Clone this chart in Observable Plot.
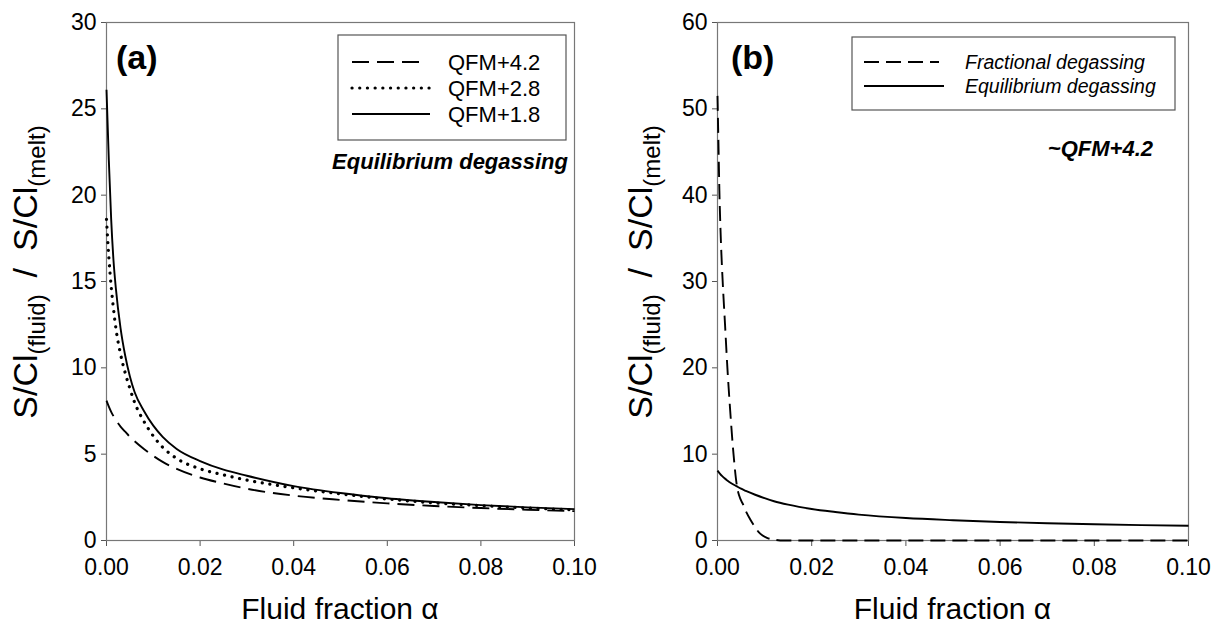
<!DOCTYPE html>
<html><head><meta charset="utf-8">
<script src="https://cdn.jsdelivr.net/npm/d3@7"></script>
<script src="https://cdn.jsdelivr.net/npm/@observablehq/plot@0.6"></script>
<style>
body{margin:0;background:#fff;}
#wrap{display:flex;width:1211px;height:632px;overflow:hidden;}
svg text{font-family:"Liberation Sans",Arial,Helvetica,sans-serif;}
</style></head><body><div id="wrap"></div>
<script>
// ---- data ----
const xTicks = [0, 0.02, 0.04, 0.06, 0.08, 0.10];
const yTicksA = [0, 5, 10, 15, 20, 25, 30];
const yTicksB = [0, 10, 20, 30, 40, 50, 60];

const alphaA = [0, 0.0005, 0.001, 0.0015, 0.002, 0.003, 0.004, 0.005, 0.006, 0.008, 0.010, 0.012, 0.015, 0.020, 0.025, 0.030, 0.040, 0.050, 0.060, 0.070, 0.080, 0.090, 0.100];
const qfm42 = [8.1, 7.75, 7.45, 7.2, 6.98, 6.6, 6.3, 6.0, 5.75, 5.3, 4.9, 4.55, 4.15, 3.65, 3.3, 3.0, 2.6, 2.35, 2.15, 2.0, 1.88, 1.78, 1.7];
const qfm28 = [18.6, 16.4, 14.7, 13.4, 12.3, 10.8, 9.7, 8.8, 8.0, 6.9, 6.05, 5.4, 4.75, 4.15, 3.8, 3.5, 3.05, 2.7, 2.4, 2.18, 2.02, 1.88, 1.78];
const qfm18 = [26.1, 22.0, 18.6, 16.2, 14.6, 12.3, 10.7, 9.5, 8.6, 7.5, 6.65, 6.0, 5.3, 4.6, 4.1, 3.75, 3.15, 2.75, 2.45, 2.23, 2.05, 1.92, 1.82];

const fracAlpha = [0, 0.0002, 0.0004, 0.0007, 0.0011, 0.0016, 0.0021, 0.0027, 0.0034, 0.0041, 0.0046, 0.0055, 0.0062, 0.0069, 0.0078, 0.0087, 0.0095, 0.0105, 0.0115, 0.0125, 0.014, 0.02, 0.04, 0.06, 0.08, 0.10];
const fracVals = [51.5, 46, 40.5, 35, 30, 25, 20, 15, 10, 6.4, 5.2, 4.1, 3.2, 2.5, 1.7, 1.0, 0.6, 0.3, 0.15, 0.06, 0, 0, 0, 0, 0, 0];
const equilVals = qfm42;

const seriesA = ["QFM+4.2", "QFM+2.8", "QFM+1.8"];
const seriesB = ["Fractional degassing", "Equilibrium degassing"];

const toRows = (xs, ys) => xs.map((a, i) => ({a, v: ys[i]}));

const FONT = '"Liberation Sans", Arial, Helvetica, sans-serif';
const styles = {
  dashA: {dash: "17,8", w: 1.9, cap: "butt"},
  dot:   {dash: "0.1,7.6", w: 3.2, cap: "round"},
  solid: {dash: null, w: 1.9, cap: "butt"},
  dashB: {dash: "15,7", w: 1.9, cap: "butt"}
};

function makePanel(cfg) {
  const plot = Plot.plot({
    width: cfg.width, height: 632,
    marginTop: 22, marginBottom: 92, marginLeft: cfg.mL, marginRight: cfg.mR,
    style: {fontFamily: FONT, fontSize: "23px", color: "#000", background: "#fff", overflow: "visible"},
    x: {domain: [0, 0.1], label: null},
    y: {domain: [0, cfg.yMax], label: null},
    marks: [
      Plot.axisX({ticks: xTicks, tickFormat: d3.format(".2f"), tickSize: 6, tickPadding: 12, stroke: "#555", fontSize: 23, label: null}),
      Plot.axisY({ticks: cfg.yTicks, tickSize: 5, tickPadding: 5, stroke: "#555", fontSize: 23, label: null}),
      Plot.frame({stroke: "#777", strokeWidth: 1.2}),
      ...cfg.lines.map(l => Plot.line(l.data, {x: "a", y: "v", stroke: "#000", strokeWidth: l.st.w, strokeDasharray: l.st.dash, strokeLinecap: l.st.cap, curve: "monotone-x"}))
    ]
  });
  const svg = d3.select(plot);
  const g = svg.append("g").attr("font-family", FONT).attr("text-anchor", "start");
  // legend
  const L = cfg.legend;
  g.append("rect").attr("x", L.x0).attr("y", L.y0).attr("width", L.x1 - L.x0).attr("height", L.y1 - L.y0)
    .attr("fill", "#fff").attr("stroke", "#555").attr("stroke-width", 1.2);
  L.items.forEach(it => {
    g.append("line").attr("x1", it.lx0).attr("x2", it.lx1).attr("y1", it.y).attr("y2", it.y)
      .attr("stroke", "#000").attr("stroke-width", it.st.w)
      .attr("stroke-dasharray", it.st.dash).attr("stroke-linecap", it.st.cap);
    g.append("text").attr("x", L.tx).attr("y", it.y).attr("dy", "0.36em").attr("text-anchor", "start")
      .attr("font-size", L.fs).attr("font-style", L.italic ? "italic" : "normal").attr("fill", "#000").text(it.text);
  });
  // panel label
  g.append("text").attr("x", cfg.label.x).attr("y", 69).attr("text-anchor", "start")
    .attr("font-size", 34).attr("font-weight", "bold").text(cfg.label.text);
  // note
  g.append("text").attr("x", cfg.note.x).attr("y", cfg.note.y).attr("dy", "0.36em").attr("text-anchor", "end")
    .attr("font-size", cfg.note.fs).attr("font-weight", "bold").attr("font-style", "italic").text(cfg.note.text);
  // x title
  const cx = cfg.mL + (cfg.width - cfg.mL - cfg.mR) / 2;
  g.append("text").attr("x", cx).attr("y", 619).attr("text-anchor", "middle").attr("font-size", 30).text("Fluid fraction α");
  // y title
  const t = g.append("text").attr("transform", `translate(${cfg.ytx},272) rotate(-90)`).attr("text-anchor", "middle").attr("font-size", 34);
  t.append("tspan").text("S/Cl");
  t.append("tspan").attr("font-size", 24).attr("dy", 8).text("(fluid)");
  t.append("tspan").attr("dy", -8).text("\u2002/\u2002S/Cl");
  t.append("tspan").attr("font-size", 24).attr("dy", 8).text("(melt)");
  return plot;
}

const wrap = document.getElementById("wrap");

wrap.appendChild(makePanel({
  width: 605, mL: 106, mR: 31, yMax: 30, yTicks: yTicksA,
  lines: [
    {data: toRows(alphaA, qfm42), st: styles.dashA},
    {data: toRows(alphaA, qfm28), st: styles.dot},
    {data: toRows(alphaA, qfm18), st: styles.solid}
  ],
  legend: {x0: 338, x1: 566, y0: 35, y1: 140, tx: 448, fs: 22, italic: false,
    items: [
      {y: 62, lx0: 352, lx1: 427, st: styles.dashA, text: seriesA[0]},
      {y: 88, lx0: 352, lx1: 430, st: styles.dot, text: seriesA[1]},
      {y: 114, lx0: 352, lx1: 430, st: styles.solid, text: seriesA[2]}
    ]},
  label: {x: 116, text: "(a)"},
  note: {x: 568, y: 161, fs: 22, text: "Equilibrium degassing"},
  ytx: 37
}));

wrap.appendChild(makePanel({
  width: 606, mL: 112, mR: 23, yMax: 60, yTicks: yTicksB,
  lines: [
    {data: toRows(fracAlpha, fracVals), st: styles.dashB},
    {data: toRows(alphaA, equilVals), st: styles.solid}
  ],
  legend: {x0: 247, x1: 570, y0: 37, y1: 110, tx: 360, fs: 19.5, italic: true,
    items: [
      {y: 62, lx0: 259, lx1: 334, st: styles.dashB, text: seriesB[0]},
      {y: 86, lx0: 259, lx1: 339, st: styles.solid, text: seriesB[1]}
    ]},
  label: {x: 126, text: "(b)"},
  note: {x: 548, y: 148, fs: 22, text: "~QFM+4.2"},
  ytx: 47
}));
</script></body></html>
